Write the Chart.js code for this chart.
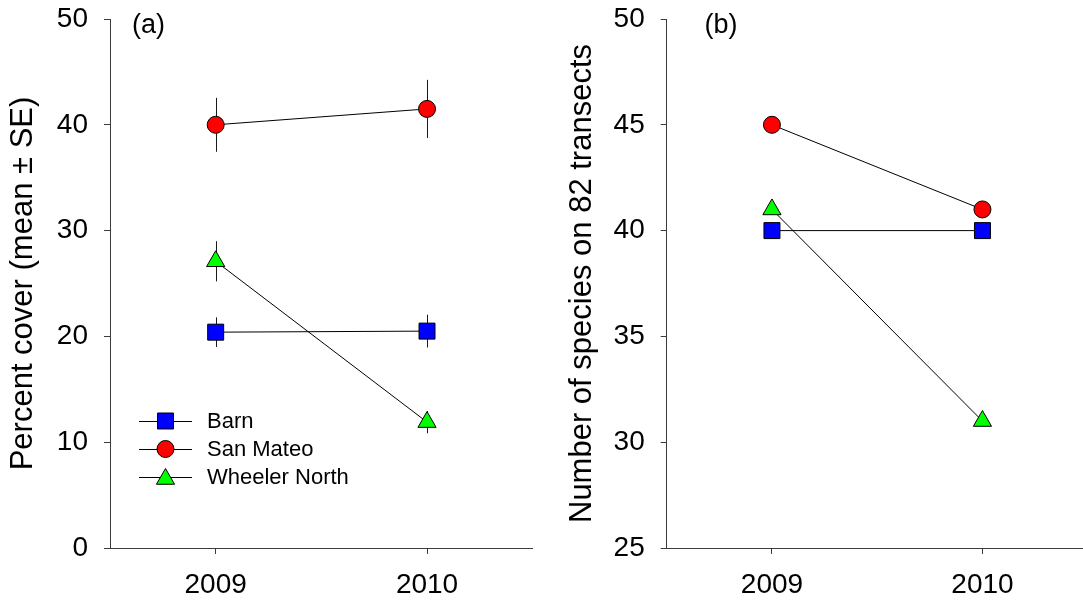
<!DOCTYPE html>
<html>
<head>
<meta charset="utf-8">
<script src="https://cdn.jsdelivr.net/npm/chart.js@4.4.1/dist/chart.umd.min.js"></script>
<style>
  html, body { margin: 0; padding: 0; background: #fff; overflow: hidden; width: 1083px; height: 600px; }
  #wrap { position: relative; width: 1083px; height: 600px; overflow: hidden; }
  canvas { position: absolute; top: 0; }
  #coverCanvas { left: 0; }
  #speciesCanvas { left: 550px; }
</style>
</head>
<body>
<div id="wrap">
  <canvas id="coverCanvas" width="545" height="600"></canvas>
  <canvas id="speciesCanvas" width="550" height="600"></canvas>
</div>
<script>
// Survey years and sites
const years = [2009, 2010];
const sites = ['Barn', 'San Mateo', 'Wheeler North'];

// (a) Percent cover, mean and standard error per site
const coverBarn = [20.4, 20.5];
const coverBarnSE = [1.4, 1.55];
const coverSanMateo = [40.0, 41.5];
const coverSanMateoSE = [2.55, 2.75];
const coverWheeler = [27.1, 11.9];
const coverWheelerSE = [1.9, 1.05];

// (b) Number of species on 82 transects
const speciesBarn = [40, 40];
const speciesSanMateo = [45, 41];
const speciesWheeler = [41, 31];

// Axis ticks
const coverTicks = [0, 10, 20, 30, 40, 50];
const speciesTicks = [25, 30, 35, 40, 45, 50];

const FONT = '"Liberation Sans", Arial, Helvetica, sans-serif';
const AXIS_COLOR = '#3c3c3c';

// Marker styles for each site
const siteStyles = [
  { pointStyle: 'rect', pointRadius: 11.3, fill: '#0000ff' },
  { pointStyle: 'circle', pointRadius: 8.5, fill: '#ff0000' },
  { pointStyle: 'triangle', pointRadius: 10.5, fill: '#00ff00' }
];

function makeDataset(i, values, errors) {
  const s = siteStyles[i];
  return {
    label: sites[i],
    data: years.map((yr, k) => ({ x: yr, y: values[k] })),
    errors: errors || null,
    borderColor: '#000',
    borderWidth: 1,
    pointStyle: s.pointStyle,
    pointRadius: s.pointRadius,
    pointHoverRadius: s.pointRadius,
    pointBackgroundColor: s.fill,
    pointBorderColor: '#000',
    pointBorderWidth: 1,
    fill: false,
    tension: 0,
    clip: false
  };
}

// Vertical error bars drawn beneath the markers
const errorBars = {
  id: 'errorBars',
  beforeDatasetsDraw(chart) {
    const { ctx, scales } = chart;
    ctx.save();
    ctx.strokeStyle = '#1a1a1a';
    ctx.lineWidth = 1;
    chart.data.datasets.forEach(ds => {
      if (!ds.errors) return;
      ds.data.forEach((p, k) => {
        const x = Math.round(scales.x.getPixelForValue(p.x)) + 0.5;
        const y1 = scales.y.getPixelForValue(p.y - ds.errors[k]);
        const y2 = scales.y.getPixelForValue(p.y + ds.errors[k]);
        ctx.beginPath();
        ctx.moveTo(x, y1);
        ctx.lineTo(x, y2);
        ctx.stroke();
      });
    });
    ctx.restore();
  }
};

function drawMarker(ctx, style, r, x, y, fill) {
  ctx.beginPath();
  if (style === 'rect') {
    const h = Math.SQRT1_2 * r;
    ctx.rect(x - h, y - h, 2 * h, 2 * h);
  } else if (style === 'circle') {
    ctx.arc(x, y, r, 0, Math.PI * 2);
  } else {
    const w = r * Math.sin(Math.PI * 2 / 3);
    ctx.moveTo(x, y - r);
    ctx.lineTo(x + w, y + r / 2);
    ctx.lineTo(x - w, y + r / 2);
    ctx.closePath();
  }
  ctx.fillStyle = fill;
  ctx.fill();
  ctx.lineWidth = 1;
  ctx.strokeStyle = '#000';
  ctx.stroke();
}

// Legend with a line through each marker
const siteLegend = {
  id: 'siteLegend',
  afterDraw(chart, args, opts) {
    if (!opts.show) return;
    const { ctx } = chart;
    ctx.save();
    chart.data.datasets.forEach((ds, i) => {
      const y = opts.top + i * opts.rowGap;
      ctx.beginPath();
      ctx.strokeStyle = '#000';
      ctx.lineWidth = 1;
      ctx.moveTo(opts.lineStart, y + 0.5);
      ctx.lineTo(opts.lineEnd, y + 0.5);
      ctx.stroke();
      const s = siteStyles[i];
      const cx = (opts.lineStart + opts.lineEnd) / 2;
      const my = s.pointStyle === 'triangle' ? y + 2 : y;
      drawMarker(ctx, s.pointStyle, s.pointRadius, cx, my, s.fill);
      ctx.fillStyle = '#000';
      ctx.font = '22px ' + FONT;
      ctx.textBaseline = 'middle';
      ctx.textAlign = 'left';
      ctx.fillText(ds.label, opts.textX, y + 1);
    });
    ctx.restore();
  }
};

// Panel letter in the upper left of the plot
const panelLetter = {
  id: 'panelLetter',
  afterDraw(chart, args, opts) {
    const { ctx } = chart;
    ctx.save();
    ctx.fillStyle = '#000';
    ctx.font = '27px ' + FONT;
    ctx.textBaseline = 'alphabetic';
    ctx.textAlign = 'left';
    ctx.fillText(opts.text, opts.x, opts.y);
    ctx.restore();
  }
};

function makeOptions(cfg) {
  return {
    responsive: false,
    animation: false,
    events: [],
    layout: { padding: { left: 0, right: cfg.padRight, top: 19, bottom: 0 } },
    plugins: {
      legend: { display: false },
      tooltip: { enabled: false },
      siteLegend: cfg.legend,
      panelLetter: cfg.letter
    },
    scales: {
      x: {
        type: 'linear',
        min: 2008.5,
        max: 2010.5,
        afterBuildTicks(scale) { scale.ticks = years.map(v => ({ value: v })); },
        afterFit(scale) {
          scale.height = 52;
          scale.paddingLeft = 0;
          scale.paddingRight = 0;
        },
        ticks: {
          color: '#000',
          font: { family: FONT, size: 28 },
          padding: 14,
          maxRotation: 0,
          callback: v => String(v)
        },
        grid: { drawOnChartArea: false, drawTicks: true, tickLength: 6, color: AXIS_COLOR, lineWidth: 1 },
        border: { display: true, color: AXIS_COLOR, width: 1 }
      },
      y: {
        type: 'linear',
        min: cfg.yTicks[0],
        max: cfg.yTicks[cfg.yTicks.length - 1],
        afterBuildTicks(scale) { scale.ticks = cfg.yTicks.map(v => ({ value: v })); },
        afterFit(scale) {
          scale.width = cfg.yWidth;
          scale.paddingTop = 0;
          scale.paddingBottom = 0;
        },
        ticks: {
          color: '#000',
          font: { family: FONT, size: 28 },
          padding: 16,
          callback: v => String(v)
        },
        grid: { drawOnChartArea: false, drawTicks: true, tickLength: 6, color: AXIS_COLOR, lineWidth: 1 },
        border: { display: true, color: AXIS_COLOR, width: 1 },
        title: {
          display: true,
          text: cfg.yTitle,
          color: '#000',
          font: { family: FONT, size: 31, lineHeight: 1.2 },
          padding: { top: cfg.titlePad, bottom: 0 }
        }
      }
    }
  };
}

new Chart(document.getElementById('coverCanvas'), {
  type: 'line',
  data: {
    datasets: [
      makeDataset(0, coverBarn, coverBarnSE),
      makeDataset(1, coverSanMateo, coverSanMateoSE),
      makeDataset(2, coverWheeler, coverWheelerSE)
    ]
  },
  options: makeOptions({
    padRight: 11,
    yWidth: 110,
    yTicks: coverTicks,
    yTitle: 'Percent cover (mean \u00b1 SE)',
    titlePad: 5,
    legend: { show: true, top: 421, rowGap: 28, lineStart: 139, lineEnd: 192, textX: 207 },
    letter: { text: '(a)', x: 132, y: 33 }
  }),
  plugins: [errorBars, siteLegend, panelLetter]
});

new Chart(document.getElementById('speciesCanvas'), {
  type: 'line',
  data: {
    datasets: [
      makeDataset(0, speciesBarn),
      makeDataset(1, speciesSanMateo),
      makeDataset(2, speciesWheeler)
    ]
  },
  options: makeOptions({
    padRight: 9.5,
    yWidth: 116.7,
    yTicks: speciesTicks,
    yTitle: 'Number of species on 82 transects',
    titlePad: 14,
    legend: { show: false },
    letter: { text: '(b)', x: 154.5, y: 33 }
  }),
  plugins: [errorBars, siteLegend, panelLetter]
});
</script>
</body>
</html>
